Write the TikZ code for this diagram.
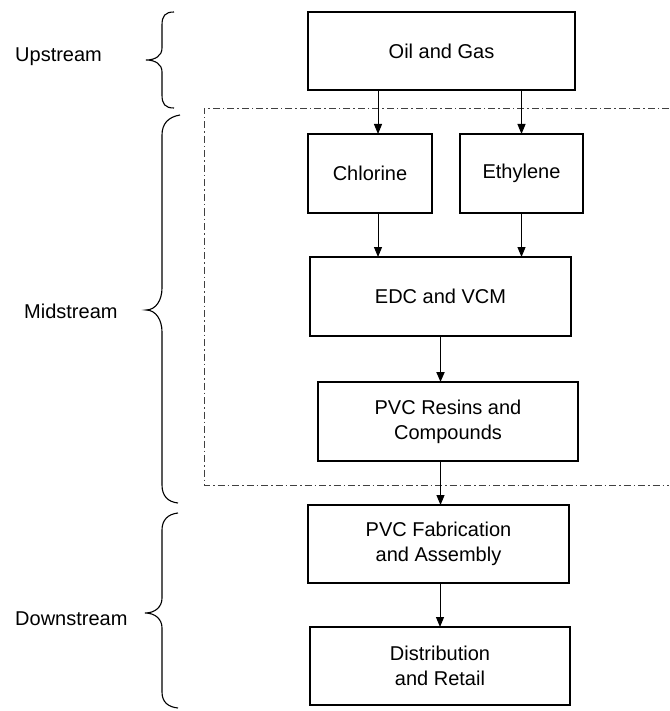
\documentclass[tikz,border=0pt]{standalone}
\usepackage{fontspec}
\setmainfont{Liberation Sans}
\usetikzlibrary{arrows.meta,calc}
\begin{document}
\begin{tikzpicture}[x=1pt,y=-1pt,
  box/.style={draw, line width=1.2pt, rectangle, inner sep=0pt, outer sep=0pt, align=center,
    font=\fontsize{20}{25}\selectfont},
  lbl/.style={anchor=base west, inner sep=0pt, font=\fontsize{20}{25}\selectfont},
  arr/.style={line width=1pt, -{Triangle[length=10pt,width=8pt]}},
  thickarr/.style={line width=1.8pt, -{Triangle[length=10pt,width=8pt]}},
  dashbox/.style={line width=0.7pt, black!75, dash pattern=on 7pt off 3pt on 1.5pt off 3pt},
  bracestyle/.style={line width=1.1pt}]
\useasboundingbox (0,0) rectangle (669,711);

% boxes
\node[box, minimum width=267pt, minimum height=78pt] (oil) at (441.5,51) {Oil and Gas};
\node[box, minimum width=124pt, minimum height=79pt] (chl) at (370,173.5) {Chlorine};
\node[box, minimum width=123pt, minimum height=79pt] (eth) at (521.5,173.5) {Ethylene};
\node[box, minimum width=261pt, minimum height=79pt] (edc) at (440.5,296.5) {EDC and VCM};
\node[box, minimum width=260pt, minimum height=79pt] (res) at (448,421.5) {PVC Resins and\\Compounds};
\node[box, minimum width=261pt, minimum height=78pt] (fab) at (438.5,544) {PVC Fabrication\\and Assembly};
\node[box, minimum width=260pt, minimum height=78pt] (dist) at (440,666) {Distribution\\and Retail};

% dashed midstream region
\coordinate (dtr) at (669,108);
\coordinate (dtl) at (204,108);
\coordinate (dbl) at (204,485);
\coordinate (dbr) at (669,485);
\draw[dashbox] (dtr) -- (dtl) -- (dbl) -- (dbr);

% arrows
\draw[arr] ([xshift=8pt]chl.north |- oil.south) -- ([xshift=8pt]chl.north);
\draw[arr] (eth.north |- oil.south) -- (eth.north);
\draw[arr] ([xshift=8pt]chl.south) -- ([xshift=8pt]chl.south |- edc.north);
\draw[arr] (eth.south) -- (eth.south |- edc.north);
\draw[thickarr] (edc.south) -- (edc.south |- res.north);
\draw[arr] (edc.south |- res.south) -- (edc.south |- fab.north);
\draw[arr] (dist.north |- fab.south) -- (dist.north);

% braces
\draw[bracestyle] (174,12) .. controls (165,12) and (162,16) .. (162,25) -- (162,48)
  .. controls (162,56) and (155,60) .. (146,60) .. controls (155,60) and (162,64) .. (162,72)
  -- (162,95) .. controls (162,104) and (165,108) .. (174,108);
\draw[bracestyle] (180,115) .. controls (168,117) and (162,124) .. (162,135) -- (162,288)
  .. controls (162,300) and (156,310) .. (146,310) .. controls (156,310) and (162,320) .. (162,332)
  -- (162,485) .. controls (162,496) and (168,502) .. (178,503);
\draw[bracestyle] (178,513) .. controls (168,514) and (162,520) .. (162,530) -- (162,598)
  .. controls (162,607) and (155,613) .. (145,613) .. controls (155,613) and (162,619) .. (162,628)
  -- (162,692) .. controls (162,702) and (168,707) .. (178,708);

% labels
\node[lbl] (up) at (15,62) {Upstream};
\node[lbl] (mid) at (24,318) {Midstream};
\node[lbl] (down) at (15,625) {Downstream};
\end{tikzpicture}
\end{document}
